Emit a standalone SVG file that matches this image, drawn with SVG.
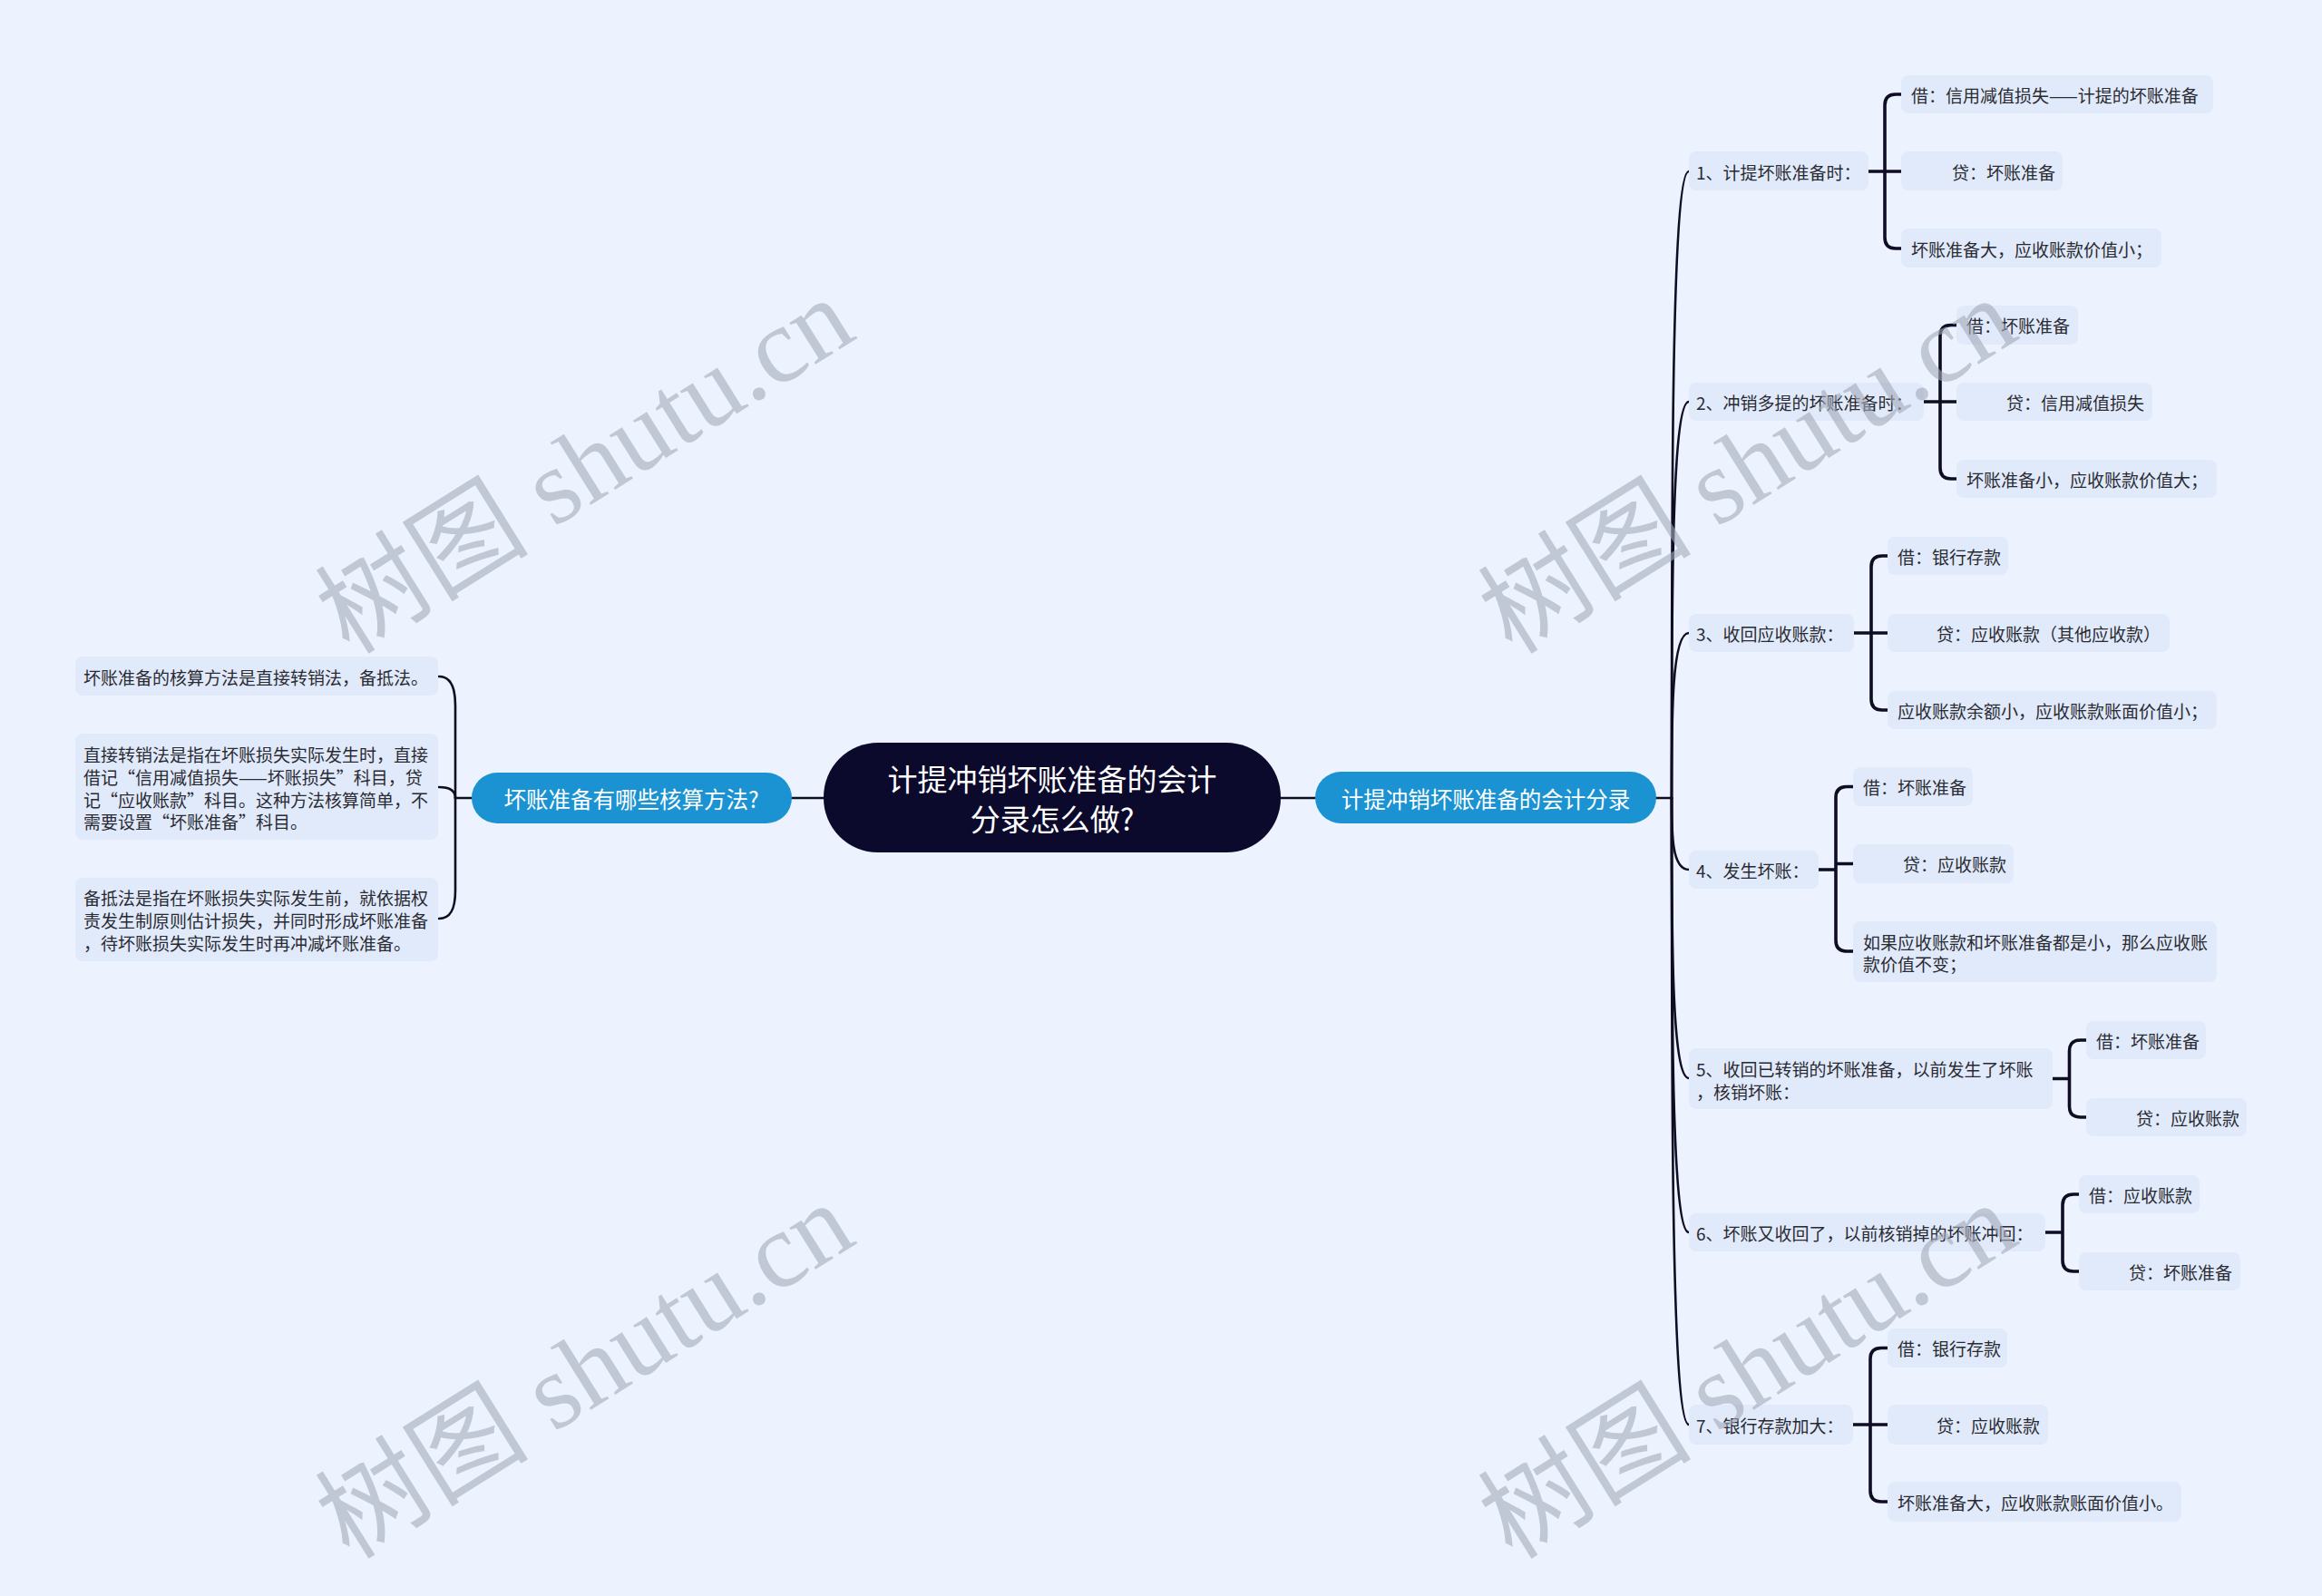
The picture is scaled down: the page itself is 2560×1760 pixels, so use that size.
<svg xmlns="http://www.w3.org/2000/svg" width="2560" height="1760" viewBox="0 0 2560 1760">
<defs>
<style>
.t{font-family:"Noto Sans CJK SC","Noto Sans",sans-serif;font-size:19px;fill:#2a2a33;dominant-baseline:central}
.leaf{fill:#e1eafa}
.root{fill:#0c0a2c}
.br{fill:#1b92d1}
.wt{font-family:"Noto Sans CJK SC","Noto Sans",sans-serif;fill:#ffffff;dominant-baseline:central;text-anchor:middle}
.ln{fill:none;stroke:#0e0d24;stroke-width:2.6;stroke-linecap:round}
.bk{fill:none;stroke:#0e0d24;stroke-width:3.6;stroke-linecap:butt}
.wm{font-family:"Liberation Serif","Noto Sans CJK SC",serif;font-size:118px;fill:#a3aaba;opacity:0.6;text-anchor:middle;dominant-baseline:central}
</style>
</defs>
<rect x="0" y="0" width="2560" height="1760" fill="#edf3fe"/>

<g id="connectors">
<path class="ln" d="M872 880 H908"/>
<path class="ln" d="M1412 880 H1450"/>
<path class="ln" d="M520 880 H502"/>
<path class="ln" d="M502 880 L502 778 C502 756 496 746 484 746"/>
<path class="ln" d="M502 880 C502 872 496 868 484 868"/>
<path class="ln" d="M502 880 L502 982 C502 1004 496 1013 484 1013"/>
<path class="ln" d="M1826 880 H1843"/>
<path class="ln" d="M1843 880 C1843 534 1843 189 1862 189"/>
<path class="ln" d="M1843 880 C1843 661 1843 443 1862 443"/>
<path class="ln" d="M1843 880 C1843 789 1843 698 1862 698"/>
<path class="ln" d="M1843 880 C1843 919 1843 959 1862 959"/>
<path class="ln" d="M1843 880 C1843 1034 1843 1189 1862 1189"/>
<path class="ln" d="M1843 880 C1843 1119 1843 1359 1862 1359"/>
<path class="ln" d="M1843 880 C1843 1225 1843 1571 1862 1571"/>
<path class="bk" d="M2060 189 H2096 M2096 104 H2090 Q2078 104 2078 116 V262 Q2078 274 2090 274 H2096"/>
<path class="bk" d="M2121 443 H2157 M2157 358.5 H2151 Q2139 358.5 2139 370.5 V516 Q2139 528 2151 528 H2157"/>
<path class="bk" d="M2044 698 H2081 M2081 613 H2075 Q2063 613 2063 625 V771 Q2063 783 2075 783 H2081"/>
<path class="bk" d="M2005 959 H2024 M2024 952.5 H2043 M2043 867.5 H2036 Q2024 867.5 2024 879.5 V1037 Q2024 1049 2036 1049 H2043"/>
<path class="bk" d="M2263 1189.5 H2281.5 M2300 1147 H2293.5 Q2281.5 1147 2281.5 1159 V1220 Q2281.5 1232 2293.5 1232 H2300"/>
<path class="bk" d="M2255 1359 H2274 M2292 1317 H2286 Q2274 1317 2274 1329 V1390 Q2274 1402 2286 1402 H2292"/>
<path class="bk" d="M2043 1571 H2081 M2081 1486.5 H2074 Q2062 1486.5 2062 1498.5 V1644 Q2062 1656 2074 1656 H2081"/>
</g>

<g id="root">
<rect class="root" x="908" y="819" width="504" height="121" rx="60"/>
<text class="wt" x="1160" y="858" font-size="33">计提冲销坏账准备的会计</text>
<text class="wt" x="1160" y="902" font-size="33">分录怎么做?</text>
</g>

<g id="branch-right">
<rect class="br" x="1450" y="851" width="376" height="57" rx="28.5"/>
<text class="wt" x="1638" y="880" font-size="24.5">计提冲销坏账准备的会计分录</text>
</g>

<g id="branch-left">
<rect class="br" x="520" y="852" width="353" height="56" rx="28"/>
<text class="wt" x="696" y="880" font-size="24.5">坏账准备有哪些核算方法?</text>
</g>

<g id="left-1">
<rect class="leaf" x="83" y="724" width="400" height="43" rx="8"/>
<text class="t" x="92" y="746">坏账准备的核算方法是直接转销法，备抵法。</text>
</g>
<g id="left-2">
<rect class="leaf" x="83" y="809" width="400" height="117" rx="8"/>
<text class="t" x="92" y="831">直接转销法是指在坏账损失实际发生时，直接</text>
<text class="t" x="92" y="856">借记“信用减值损失——坏账损失”科目，贷</text>
<text class="t" x="92" y="881">记“应收账款”科目。这种方法核算简单，不</text>
<text class="t" x="92" y="905">需要设置“坏账准备”科目。</text>
</g>
<g id="left-3">
<rect class="leaf" x="83" y="968" width="400" height="92" rx="8"/>
<text class="t" x="92" y="989">备抵法是指在坏账损失实际发生前，就依据权</text>
<text class="t" x="92" y="1014">责发生制原则估计损失，并同时形成坏账准备</text>
<text class="t" x="92" y="1039">，待坏账损失实际发生时再冲减坏账准备。</text>
</g>

<g id="r1">
<rect class="leaf" x="1862" y="167" width="198" height="43" rx="8"/>
<text class="t" x="1870" y="189">1、计提坏账准备时：</text>
</g>
<g id="r1a">
<rect class="leaf" x="2096" y="83" width="344" height="42" rx="8"/>
<text class="t" x="2107" y="104">借：信用减值损失——计提的坏账准备</text>
</g>
<g id="r1b">
<rect class="leaf" x="2096" y="167" width="178" height="43" rx="8"/>
<text class="t" x="2152" y="189">贷：坏账准备</text>
</g>
<g id="r1c">
<rect class="leaf" x="2096" y="252" width="287" height="43" rx="8"/>
<text class="t" x="2107" y="274">坏账准备大，应收账款价值小；</text>
</g>

<g id="r2">
<rect class="leaf" x="1862" y="422" width="259" height="42" rx="8"/>
<text class="t" x="1870" y="443">2、冲销多提的坏账准备时：</text>
</g>
<g id="r2a">
<rect class="leaf" x="2157" y="337" width="134" height="43" rx="8"/>
<text class="t" x="2168" y="358.5">借：坏账准备</text>
</g>
<g id="r2b">
<rect class="leaf" x="2157" y="422" width="216" height="42" rx="8"/>
<text class="t" x="2212" y="443">贷：信用减值损失</text>
</g>
<g id="r2c">
<rect class="leaf" x="2157" y="507" width="287" height="42" rx="8"/>
<text class="t" x="2168" y="528">坏账准备小，应收账款价值大；</text>
</g>

<g id="r3">
<rect class="leaf" x="1862" y="677" width="182" height="42" rx="8"/>
<text class="t" x="1870" y="698">3、收回应收账款：</text>
</g>
<g id="r3a">
<rect class="leaf" x="2081" y="592" width="133" height="42" rx="8"/>
<text class="t" x="2092" y="613">借：银行存款</text>
</g>
<g id="r3b">
<rect class="leaf" x="2081" y="677" width="311" height="42" rx="8"/>
<text class="t" x="2135" y="698">贷：应收账款（其他应收款）</text>
</g>
<g id="r3c">
<rect class="leaf" x="2081" y="762" width="363" height="42" rx="8"/>
<text class="t" x="2092" y="783">应收账款余额小，应收账款账面价值小；</text>
</g>

<g id="r4">
<rect class="leaf" x="1862" y="938" width="143" height="42" rx="8"/>
<text class="t" x="1870" y="959">4、发生坏账：</text>
</g>
<g id="r4a">
<rect class="leaf" x="2043" y="846" width="132" height="43" rx="8"/>
<text class="t" x="2054" y="867.5">借：坏账准备</text>
</g>
<g id="r4b">
<rect class="leaf" x="2043" y="931" width="177" height="43" rx="8"/>
<text class="t" x="2098" y="952.5">贷：应收账款</text>
</g>
<g id="r4c">
<rect class="leaf" x="2043" y="1016" width="401" height="67" rx="8"/>
<text class="t" x="2054" y="1038">如果应收账款和坏账准备都是小，那么应收账</text>
<text class="t" x="2054" y="1062">款价值不变；</text>
</g>

<g id="r5">
<rect class="leaf" x="1862" y="1156" width="401" height="67" rx="8"/>
<text class="t" x="1870" y="1178">5、收回已转销的坏账准备，以前发生了坏账</text>
<text class="t" x="1870" y="1203">，核销坏账：</text>
</g>
<g id="r5a">
<rect class="leaf" x="2300" y="1126" width="132" height="42" rx="8"/>
<text class="t" x="2311" y="1147">借：坏账准备</text>
</g>
<g id="r5b">
<rect class="leaf" x="2300" y="1211" width="177" height="42" rx="8"/>
<text class="t" x="2355" y="1232">贷：应收账款</text>
</g>

<g id="r6">
<rect class="leaf" x="1862" y="1338" width="393" height="42" rx="8"/>
<text class="t" x="1870" y="1359">6、坏账又收回了，以前核销掉的坏账冲回：</text>
</g>
<g id="r6a">
<rect class="leaf" x="2292" y="1296" width="133" height="42" rx="8"/>
<text class="t" x="2303" y="1317">借：应收账款</text>
</g>
<g id="r6b">
<rect class="leaf" x="2292" y="1381" width="178" height="42" rx="8"/>
<text class="t" x="2347" y="1402">贷：坏账准备</text>
</g>

<g id="r7">
<rect class="leaf" x="1862" y="1549" width="181" height="44" rx="8"/>
<text class="t" x="1870" y="1571">7、银行存款加大：</text>
</g>
<g id="r7a">
<rect class="leaf" x="2081" y="1465" width="132" height="43" rx="8"/>
<text class="t" x="2092" y="1486.5">借：银行存款</text>
</g>
<g id="r7b">
<rect class="leaf" x="2081" y="1549" width="177" height="44" rx="8"/>
<text class="t" x="2135" y="1571">贷：应收账款</text>
</g>
<g id="r7c">
<rect class="leaf" x="2081" y="1634" width="324" height="44" rx="8"/>
<text class="t" x="2092" y="1656">坏账准备大，应收账款账面价值小。</text>
</g>

<g id="watermarks">
<text class="wm" transform="translate(645 514) rotate(-32)">树图 shutu.cn</text>
<text class="wm" transform="translate(1927 514) rotate(-32)">树图 shutu.cn</text>
<text class="wm" transform="translate(645 1512) rotate(-32)">树图 shutu.cn</text>
<text class="wm" transform="translate(1927 1512) rotate(-32)">树图 shutu.cn</text>
</g>
</svg>
